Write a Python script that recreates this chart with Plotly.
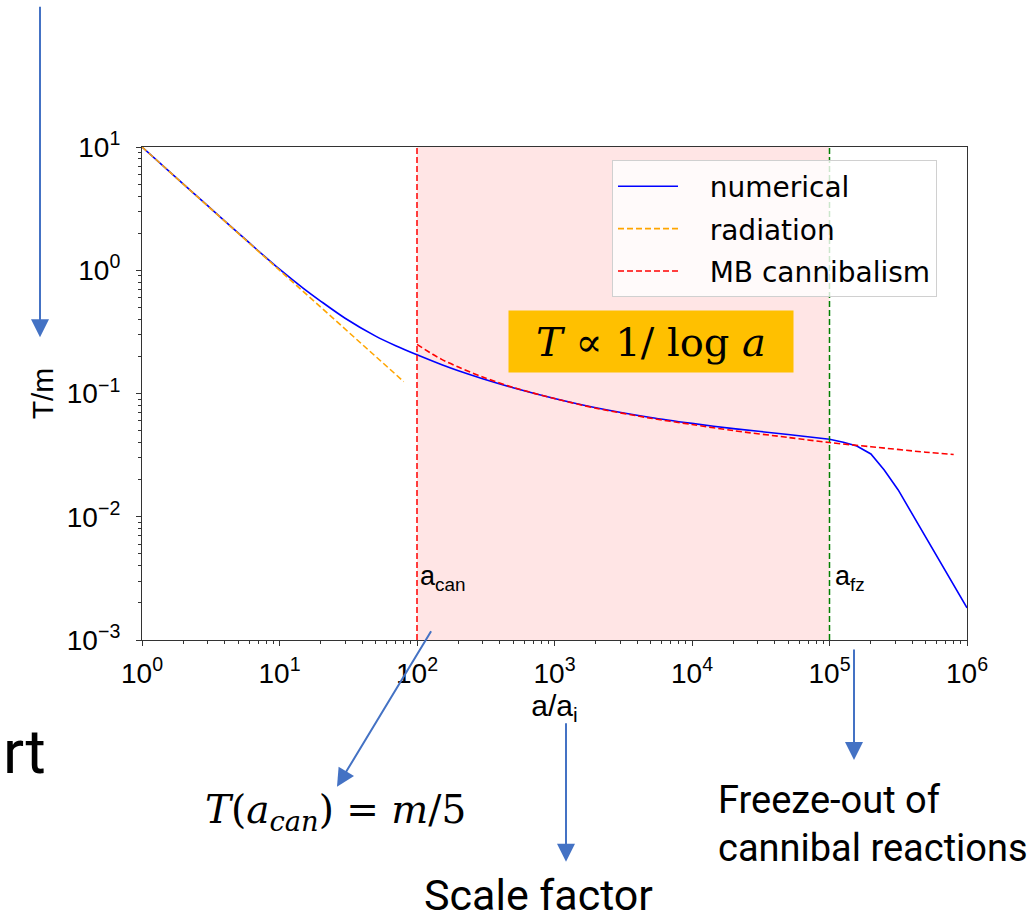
import numpy as np
import plotly.graph_objects as go

# ---- data -------------------------------------------------------------
# numerical solution: smooth cannibal phase, then the freeze-out drop
A_NUM = [1, 2, 3, 5, 7, 10, 15, 20, 30, 50, 70, 100, 150, 200, 300, 500,
         1e3, 2e3, 5e3, 1e4, 2e4, 5e4, 1e5]
T_NUM = [10, 5.0, 3.34, 2.01, 1.44, 1.02, 0.71, 0.56, 0.408, 0.292, 0.244, 0.206,
         0.172, 0.153, 0.132, 0.1115, 0.0912, 0.0767, 0.0639, 0.0572, 0.0519, 0.0465,
         0.0425]
A_NUM_FZ = [1e5, 1.26e5, 1.58e5, 2e5, 2.5e5, 3.16e5, 1e6]
T_NUM_FZ = [0.0425, 0.0402, 0.0375, 0.0323, 0.0239, 0.0165, 0.00182]

A_RAD = [1, 80]
T_RAD = [10, 0.125]

A_MB = [100, 130, 150, 200, 300, 500, 1e3, 2e3, 5e3, 1e4, 2e4, 5e4, 1e5, 2e5, 5e5, 8e5]
T_MB = [0.25, 0.208, 0.19, 0.164, 0.136, 0.112, 0.091, 0.076, 0.063, 0.056,
        0.050, 0.044, 0.040, 0.037, 0.0334, 0.032]

A_CAN = 100      # onset of cannibalism
A_FZ = 1e5       # freeze-out of cannibal reactions

X_TICKS = [1, 10, 1e2, 1e3, 1e4, 1e5, 1e6]
X_TICK_TEXT = ["10<sup>0</sup>", "10<sup>1</sup>", "10<sup>2</sup>", "10<sup>3</sup>",
               "10<sup>4</sup>", "10<sup>5</sup>", "10<sup>6</sup>"]
Y_TICKS = [1e-3, 1e-2, 1e-1, 1, 10]
Y_TICK_TEXT = ["10<sup>−3</sup>", "10<sup>−2</sup>", "10<sup>−1</sup>",
               "10<sup>0</sup>", "10<sup>1</sup>"]

X_RANGE = [0, 6]     # log10 of a/a_i
Y_RANGE = [-3, 1]    # log10 of T/m

# ---- page geometry ------------------------------------------------------
W, H = 1032, 924
PL, PR, PT, PB = 142, 967, 146.5, 640


def px(x):
    return (x - PL) / (PR - PL)


def py(y):
    return (PB - y) / (PB - PT)


SANS = "Liberation Sans"
LEG = "DejaVu Sans"
SERIF = "DejaVu Serif"
SLIDE = "Roboto"
ARROW = "#4472C4"
NB = "\u00a0\u00a0\u00a0"

fig = go.Figure()

fig.add_trace(go.Scatter(x=A_NUM, y=T_NUM, mode="lines", name=NB + "numerical",
                         legendgroup="g1",
                         line=dict(color="blue", width=1.6, shape="spline",
                                   smoothing=0.8)))
fig.add_trace(go.Scatter(x=A_NUM_FZ, y=T_NUM_FZ, mode="lines", legendgroup="g1",
                         showlegend=False, line=dict(color="blue", width=1.6)))
fig.add_trace(go.Scatter(x=A_RAD, y=T_RAD, mode="lines", name=NB + "radiation",
                         legendgroup="g2",
                         line=dict(color="orange", width=1.6, dash="6px,3px")))
fig.add_trace(go.Scatter(x=A_MB, y=T_MB, mode="lines", name=NB + "MB cannibalism",
                         legendgroup="g3",
                         line=dict(color="red", width=1.6, dash="6px,3px",
                                   shape="spline", smoothing=0.8)))

# cannibal era shading and its boundaries
fig.add_shape(type="rect", xref="x", yref="paper", x0=A_CAN, x1=A_FZ, y0=0, y1=1,
              fillcolor="rgba(255,0,0,0.1)", line_width=0, layer="below")
fig.add_shape(type="line", xref="x", yref="paper", x0=A_CAN, x1=A_CAN, y0=0, y1=1,
              line=dict(color="red", width=1.5, dash="6px,3px"))
fig.add_shape(type="line", xref="x", yref="paper", x0=A_FZ, x1=A_FZ, y0=0, y1=1,
              line=dict(color="green", width=1.5, dash="6px,3px"))

ann = []
# boundary labels
ann.append(dict(xref="x", yref="paper", x=np.log10(A_CAN), y=py(597), xshift=1,
                text="a<sub>can</sub>", showarrow=False, xanchor="left",
                font=dict(family=SANS, size=27, color="black")))
ann.append(dict(xref="x", yref="paper", x=np.log10(A_FZ), y=py(597), xshift=3,
                text="a<sub>fz</sub>", showarrow=False, xanchor="left",
                font=dict(family=SANS, size=27, color="black")))

# scaling law box
ann.append(dict(xref="paper", yref="paper", x=px(651), y=py(341),
                text="<i>T</i> ∝ 1/ log <i>a</i>", showarrow=False,
                bgcolor="#FFC000", width=282, height=59, align="center",
                font=dict(family=SERIF, size=40, color="black")))

# explanatory arrows
for tip, tail in [((40, 337), (40, 5)),
                  ((337, 787), (432, 630)),
                  ((566, 862), (566, 722)),
                  ((854, 760), (854, 648))]:
    ann.append(dict(xref="paper", yref="paper", x=px(tip[0]), y=py(tip[1]),
                    ax=tail[0] - tip[0], ay=tail[1] - tip[1],
                    text="", showarrow=True, arrowhead=2, arrowsize=1.8,
                    arrowwidth=2, arrowcolor=ARROW, standoff=0))

ann.append(dict(xref="paper", yref="paper", x=px(335), y=py(812),
                text="<i>T</i>(<i>a<sub>can</sub></i>) = <i>m</i>/5", showarrow=False,
                xanchor="center", yanchor="middle",
                font=dict(family=SERIF, size=39, color="black")))
ann.append(dict(xref="paper", yref="paper", x=px(538), y=py(895),
                text="Scale factor", showarrow=False,
                xanchor="center", yanchor="middle",
                font=dict(family=SLIDE, size=43, color="black")))
ann.append(dict(xref="paper", yref="paper", x=px(716), y=py(800),
                text="Freeze-out of", showarrow=False,
                xanchor="left", yanchor="middle",
                font=dict(family=SLIDE, size=38, color="black")))
ann.append(dict(xref="paper", yref="paper", x=px(716), y=py(848),
                text="cannibal reactions", showarrow=False,
                xanchor="left", yanchor="middle",
                font=dict(family=SLIDE, size=38, color="black")))
ann.append(dict(xref="paper", yref="paper", x=px(1), y=py(752),
                text="rt", showarrow=False,
                xanchor="left", yanchor="middle",
                font=dict(family=SLIDE, size=62, color="black")))

axis_common = dict(
    type="log", showgrid=False, zeroline=False,
    showline=True, linecolor="#333333", linewidth=1.2, mirror=True,
    ticks="outside", ticklen=5, tickwidth=1, tickcolor="#333333",
    tickfont=dict(family=SANS, size=28, color="black"),
    minor=dict(ticks="outside", ticklen=3, tickwidth=1, tickcolor="#333333",
               dtick="D1", showgrid=False),
)

fig.update_layout(
    width=W, height=H, autosize=False,
    margin=dict(l=PL, r=W - PR, t=PT, b=H - PB, pad=0),
    paper_bgcolor="white", plot_bgcolor="white",
    xaxis=dict(range=X_RANGE, tickvals=X_TICKS, ticktext=X_TICK_TEXT,
               ticklabelstandoff=3,
               title=dict(text="a/a<sub>i</sub>", standoff=4,
                          font=dict(family=SANS, size=30, color="black")),
               **axis_common),
    yaxis=dict(range=Y_RANGE, tickvals=Y_TICKS, ticktext=Y_TICK_TEXT,
               ticklabelstandoff=10,
               title=dict(text="T/m", standoff=4,
                          font=dict(family=SANS, size=30, color="black")),
               **axis_common),
    legend=dict(x=px(612), y=py(160), xanchor="left", yanchor="top",
                bgcolor="rgba(255,255,255,0.8)", bordercolor="#d0d0d0",
                borderwidth=1, itemwidth=60, traceorder="grouped",
                tracegroupgap=3,
                font=dict(family=LEG, size=28, color="black")),
    annotations=ann,
)

fig.write_html("out.html")
